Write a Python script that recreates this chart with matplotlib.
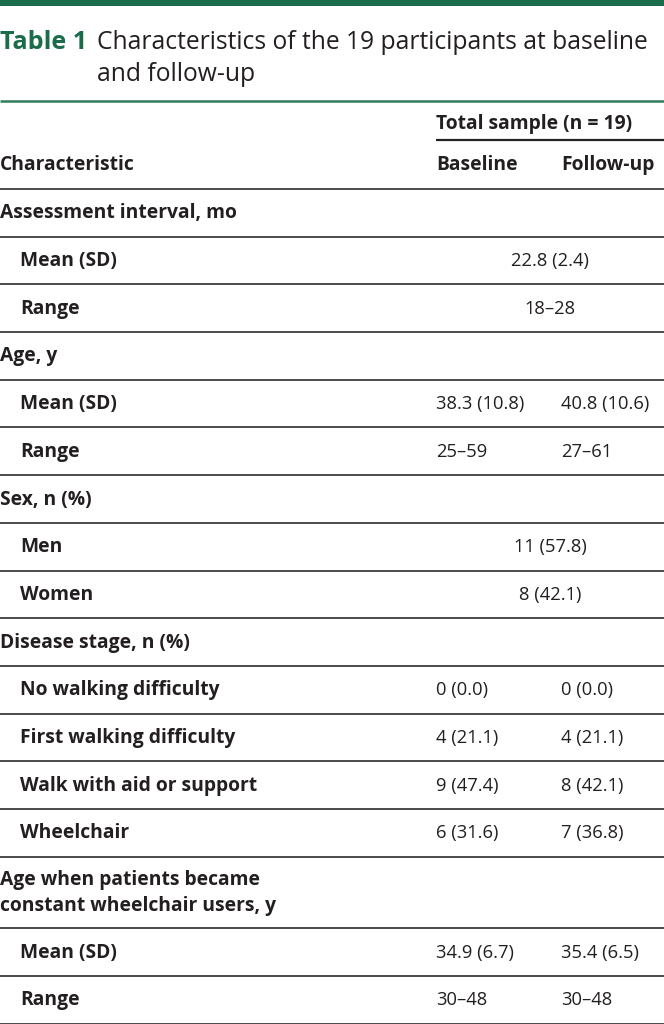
import matplotlib
matplotlib.use("Agg")
import matplotlib.pyplot as plt

plt.rcParams['font.family'] = ['Open Sans', 'DejaVu Sans']

GREEN = "#1b6c4b"
TEXT = "#231f20"
LINE = "#4a4a4a"

title_label = "Table 1"
title_lines = ["Characteristics of the 19 participants at baseline", "and follow-up"]
group_header = "Total sample (n = 19)"
col_headers = ["Characteristic", "Baseline", "Follow-up"]

# rows: label, level (0 = section heading, 1 = item), baseline, follow-up, merged (value spans both columns)
labels = [
    "Assessment interval, mo", "Mean (SD)", "Range",
    "Age, y", "Mean (SD)", "Range",
    "Sex, n (%)", "Men", "Women",
    "Disease stage, n (%)", "No walking difficulty", "First walking difficulty",
    "Walk with aid or support", "Wheelchair",
    "Age when patients became\nconstant wheelchair users, y", "Mean (SD)", "Range",
]
levels = [0, 1, 1, 0, 1, 1, 0, 1, 1, 0, 1, 1, 1, 1, 0, 1, 1]
baseline = ["", "22.8 (2.4)", "18–28",
            "", "38.3 (10.8)", "25–59",
            "", "11 (57.8)", "8 (42.1)",
            "", "0 (0.0)", "4 (21.1)", "9 (47.4)", "6 (31.6)",
            "", "34.9 (6.7)", "30–48"]
followup = ["", "", "",
            "", "40.8 (10.6)", "27–61",
            "", "", "",
            "", "0 (0.0)", "4 (21.1)", "8 (42.1)", "7 (36.8)",
            "", "35.4 (6.5)", "30–48"]
merged = [False, True, True, False, False, False, False, True, True,
          False, False, False, False, False, False, False, False]

W, H = 664, 1024
fig = plt.figure(figsize=(W / 100, H / 100), dpi=100)
ax = fig.add_axes([0, 0, 1, 1])
ax.set_xlim(0, W)
ax.set_ylim(H, 0)
ax.axis("off")

fs_title = 17.7
fs_body = 13.2
fs_bold = 13.9

# top bar
ax.fill_between([0, W], 0, 5.5, color=GREEN, lw=0)
# title
ax.text(0, 42.5, title_label, color=GREEN, fontsize=fs_title + 0.4, fontweight="bold", va="center", ha="left")
ax.text(97, 42.5, title_lines[0], color=TEXT, fontsize=fs_title, va="center", ha="left")
ax.text(97, 74.5, title_lines[1], color=TEXT, fontsize=fs_title, va="center", ha="left")
ax.plot([0, W], [101, 101], color="#2e7d5b", lw=1.8, solid_capstyle="butt")

x_base = 436
x_follow = 561
x_center = 550

ax.text(x_base, 124, group_header, color=TEXT, fontsize=fs_bold, fontweight="bold", va="center")
ax.plot([x_base, W], [140, 140], color="#222222", lw=1.6, solid_capstyle="butt")
ax.text(0, 165, col_headers[0], color=TEXT, fontsize=fs_bold, fontweight="bold", va="center")
ax.text(x_base, 165, col_headers[1], color=TEXT, fontsize=fs_bold, fontweight="bold", va="center")
ax.text(x_follow, 165, col_headers[2], color=TEXT, fontsize=fs_bold, fontweight="bold", va="center")
ax.plot([0, W], [189, 189], color=LINE, lw=1.4, solid_capstyle="butt")

row_h = 47.7
y = 189.0
for lab, lev, b, f, m in zip(labels, levels, baseline, followup, merged):
    h = row_h * (1.5 if "\n" in lab else 1.0)
    yc = y + h / 2 + 0.5
    xl = 0 if lev == 0 else 20
    ax.text(xl, yc, lab, color=TEXT, fontsize=fs_bold, fontweight="bold",
            va="center", ha="left", linespacing=1.35)
    if m:
        ax.text(x_center, yc, b, color=TEXT, fontsize=fs_body, va="center", ha="center")
    else:
        if b:
            ax.text(x_base, yc, b, color=TEXT, fontsize=fs_body, va="center", ha="left")
        if f:
            ax.text(x_follow, yc, f, color=TEXT, fontsize=fs_body, va="center", ha="left")
    y += h
    ax.plot([0, W], [y, y], color=LINE, lw=1.4, solid_capstyle="butt")

fig.savefig("out.png", dpi=100, facecolor="white")
